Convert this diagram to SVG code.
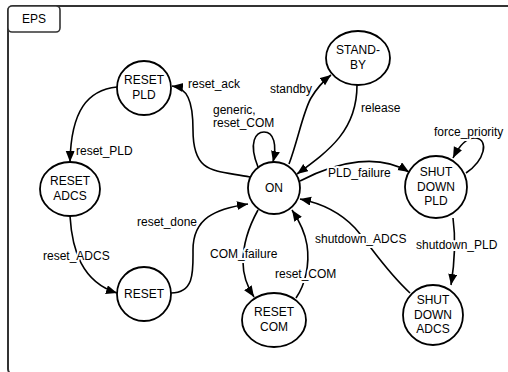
<svg xmlns="http://www.w3.org/2000/svg" width="508" height="372" viewBox="0 0 508 372">
<defs>
<style>
.st{fill:#fff;stroke:#000;stroke-width:1.8}
.nt{font-family:"Liberation Sans",Arial,sans-serif;font-size:12px;fill:#000;text-anchor:middle}
.e{fill:none;stroke:#000;stroke-width:1.6}
.a{marker-end:url(#arr)}
.lb{font-family:"Liberation Sans",Arial,sans-serif;font-size:12px;fill:#000;stroke:#fff;stroke-width:4;stroke-linejoin:round;paint-order:stroke}
</style>
<marker id="arr" markerUnits="userSpaceOnUse" markerWidth="12" markerHeight="10" refX="11" refY="4.5" orient="auto">
<path d="M0,0 L11,4.5 L0,9 z" fill="#000"/>
</marker>
</defs>
<rect width="508" height="372" fill="#fff"/>
<g id="frame">
<rect x="8" y="6" width="520" height="368" rx="5" fill="none" stroke="#333" stroke-width="2"/>
<rect x="8" y="6" width="52" height="26" rx="4" fill="#fff" stroke="#333" stroke-width="1.6"/>
<text x="34" y="23" class="nt">EPS</text>
</g>
<g id="connectors">
<path class="e a" d="M250,177 C215,170 193,175 193,130 C193,100 187,88 172,86"/>
<path class="e a" d="M117,87 C88,90 71,110 70,162"/>
<path class="e a" d="M70,216 C72,250 82,282 117,293"/>
<path class="e a" d="M171,293 C195,293 193,270 193,250 C193,218 215,209 248,204"/>
<path class="e a" d="M258,167 C248,142 256,132 264,132 C274,132 277,145 273,162"/>
<path class="e a" d="M289,164 C298,140 303,112 311,98 C317,88 322,82 331,75"/>
<path class="e a" d="M357,85 C357,130 330,150 297,174"/>
<path class="e a" d="M300,181 C340,160 380,154 409,172"/>
<path class="e a" d="M466,173 C485,160 489,140 476,138 C466,137 458,148 453,158"/>
<path class="e a" d="M453,218 C456,240 455,260 451,285"/>
<path class="e a" d="M410,293 C385,270 370,245 355,228 C340,212 320,203 300,199"/>
<path class="e a" d="M258,210 C248,228 243,245 243,262 C243,278 248,288 254,297"/>
<path class="e a" d="M296,298 C305,285 310,265 307,245 C305,232 300,222 292,210"/>
<text class="lb" x="188" y="88">reset_ack</text>
<text class="lb" x="76" y="155">reset_PLD</text>
<text class="lb" x="43" y="260">reset_ADCS</text>
<text class="lb" x="137" y="226">reset_done</text>
<text class="lb" x="213" y="114">generic,</text>
<text class="lb" x="213" y="127">reset_COM</text>
<text class="lb" x="270" y="93">standby</text>
<text class="lb" x="361" y="112">release</text>
<text class="lb" x="328" y="177">PLD_failure</text>
<text class="lb" x="434" y="136">force_priority</text>
<text class="lb" x="416" y="249">shutdown_PLD</text>
<text class="lb" x="315" y="243">shutdown_ADCS</text>
<text class="lb" x="210" y="258">COM_failure</text>
<text class="lb" x="275" y="278">reset_COM</text>
</g>
<g id="n-reset-pld"><circle class="st" cx="144" cy="88" r="27"/><text class="nt" x="144" y="84">RESET</text><text class="nt" x="144" y="99">PLD</text></g>
<g id="n-reset-adcs"><ellipse class="st" cx="70" cy="189" rx="30" ry="27"/><text class="nt" x="70" y="185">RESET</text><text class="nt" x="70" y="200">ADCS</text></g>
<g id="n-reset"><circle class="st" cx="144" cy="294" r="27"/><text class="nt" x="144" y="298">RESET</text></g>
<g id="n-on"><circle class="st" cx="274" cy="188" r="26"/><text class="nt" x="274" y="192">ON</text></g>
<g id="n-standby"><ellipse class="st" cx="358" cy="58" rx="32" ry="27"/><text class="nt" x="358" y="54">STAND-</text><text class="nt" x="358" y="69">BY</text></g>
<g id="n-reset-com"><ellipse class="st" cx="274" cy="320" rx="32" ry="27"/><text class="nt" x="274" y="316">RESET</text><text class="nt" x="274" y="331">COM</text></g>
<g id="n-shutdown-pld"><circle class="st" cx="436" cy="187" r="31"/><text class="nt" x="436" y="176">SHUT</text><text class="nt" x="436" y="191">DOWN</text><text class="nt" x="436" y="205">PLD</text></g>
<g id="n-shutdown-adcs"><circle class="st" cx="433" cy="315" r="30"/><text class="nt" x="433" y="304">SHUT</text><text class="nt" x="433" y="319">DOWN</text><text class="nt" x="433" y="333">ADCS</text></g>
</svg>
